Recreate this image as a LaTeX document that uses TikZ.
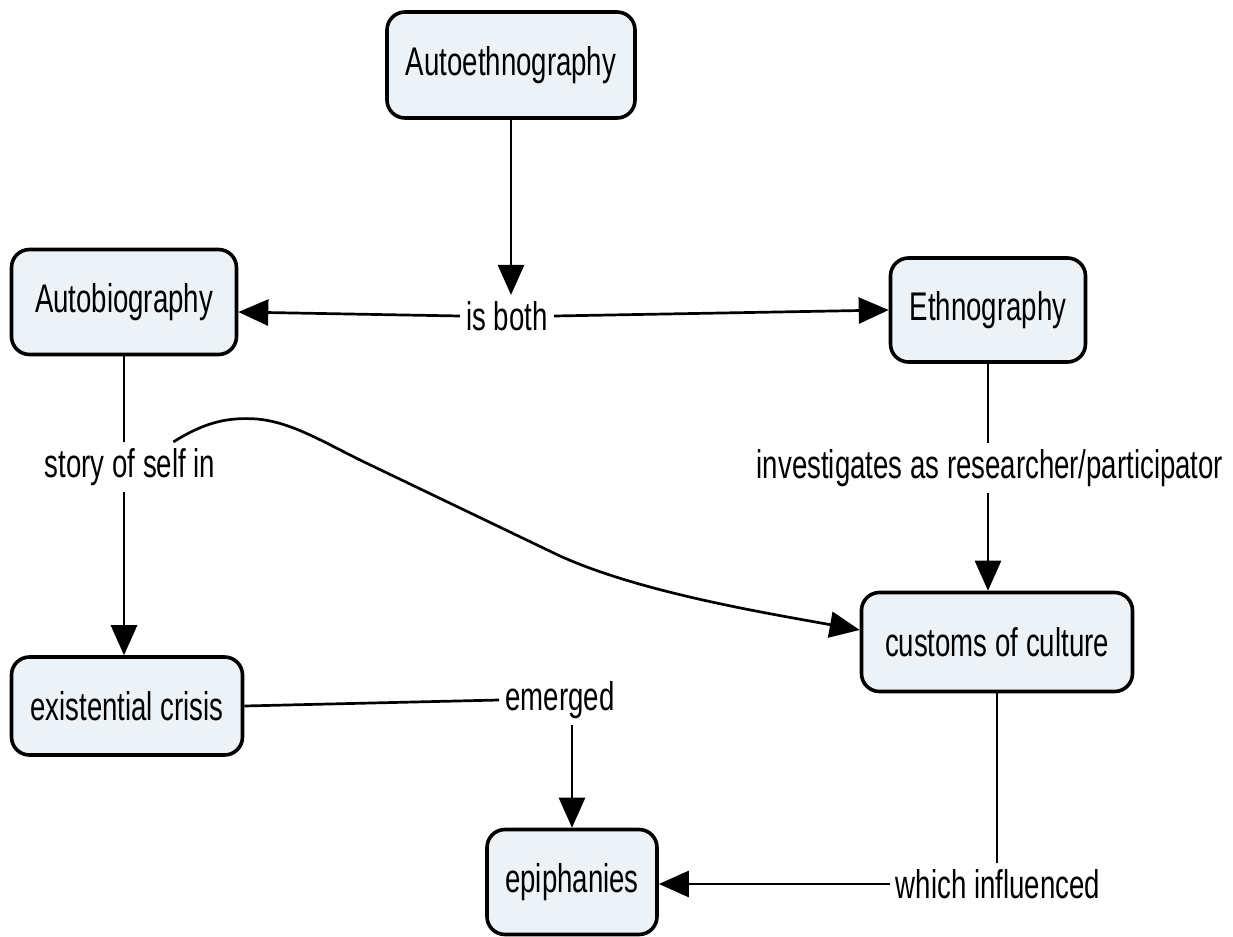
\documentclass[tikz,border=0pt]{standalone}
\usepackage{fontspec}
\setmainfont{Liberation Sans}[FakeStretch=0.69]
\usetikzlibrary{arrows.meta,calc}
\definecolor{conceptfill}{RGB}{236,242,246}
\begin{document}
\begin{tikzpicture}[x=0.5pt,y=-0.5pt,
  concept/.style={draw=black, line width=1.8pt, rounded corners=9pt,
    fill=conceptfill, font=\fontsize{20}{24}\selectfont, inner sep=0pt},
  linklabel/.style={fill=white, font=\fontsize{20}{24}\selectfont, inner sep=3pt},
  link/.style={line width=1.35pt, draw=black},
  arrow/.style={link, -{Triangle[length=15pt,width=13pt]}}
]
\useasboundingbox (0,0) rectangle (1233,937);

% concepts
\node[concept, minimum width=124pt, minimum height=53pt] (ae) at (511,65) {Autoethnography};
\node[concept, minimum width=112.5pt, minimum height=52.5pt] (ab) at (124,302) {Autobiography};
\node[concept, minimum width=97.5pt, minimum height=52pt] (en) at (988,310) {Ethnography};
\node[concept, minimum width=135.5pt, minimum height=49.5pt] (cc) at (997,642) {customs of culture};
\node[concept, minimum width=115.5pt, minimum height=49pt] (ec) at (127,706) {existential crisis};
\node[concept, minimum width=85pt, minimum height=52.5pt] (ep) at (572,882) {epiphanies};

% linking phrases
\node[linklabel] (isb) at (507,316) {is both};
\node[linklabel] (sos) at (130,467) {story of self in};
\node[linklabel] (inv) at (990,468) {investigates as researcher/participator};
\node[linklabel] (em) at (560,700) {emerged};
\node[linklabel] (wi) at (998,884) {which influenced};

% connections
\draw[arrow] (ae.south) -- (ae.south |- isb.north);
\draw[arrow] (isb.west) -- (ab.-5);
\draw[arrow] (isb.east) -- (en.west);

\draw[link] (ab.south) -- (ab.south |- sos.north);
\draw[arrow] (ab.south |- sos.south) -- (ec.north -| ab.south);

\draw[link] (en.south) -- (en.south |- inv.north);
\draw[arrow] (en.south |- inv.south) -- (cc.north -| en.south);

\draw[arrow] (sos.30) .. controls (205,422) and (228,417) .. (257,419)
  .. controls (290,422) and (320,440) .. (360,460) -- (560,556)
  .. controls (640,592) and (760,612) .. (cc.175);

\draw[link] (ec.east) -- (em.west);
\draw[arrow] (em.south -| ep.north) -- (ep.north);

\draw[link] (cc.south) -- (cc.south |- wi.north);
\draw[arrow] (wi.west) -- (ep.east |- wi.west);
\end{tikzpicture}
\end{document}
